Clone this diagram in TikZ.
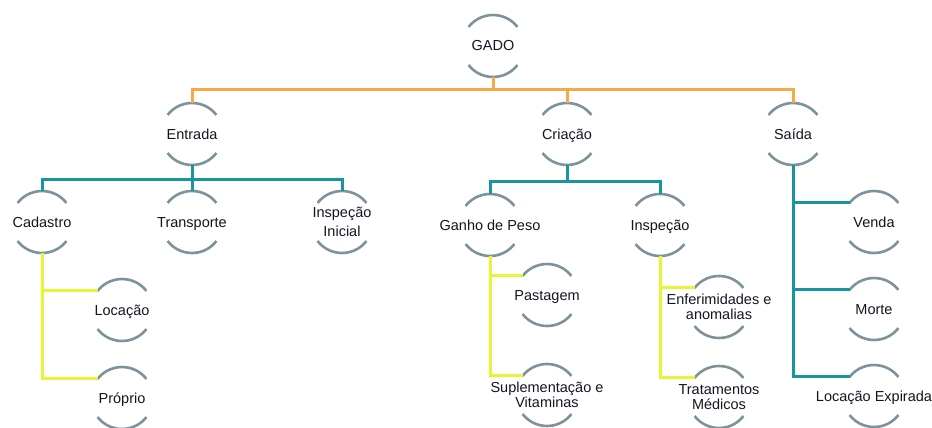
\documentclass[tikz,border=0pt]{standalone}
\usepackage{fontspec}
\setmainfont{Liberation Sans}
\definecolor{wireorange}{RGB}{247,168,72}
\definecolor{wireteal}{RGB}{24,150,158}
\definecolor{wireyellow}{RGB}{232,245,50}
\definecolor{rimgray}{RGB}{126,146,155}
\definecolor{inkdark}{RGB}{20,20,35}

% label set in a zero-width box so the circle keeps its fixed size;
% the text sits a little below the circle's centre
\newcommand\hublabel[1]{\makebox[0pt]{\raisebox{-2pt}[\height][\depth]{\begin{tabular}{@{}c@{}}#1\end{tabular}}}}
% a node drawn as two facing arcs (top and bottom) around its label
\newcommand\hubnode[4]{%
  \node[hub] (#1) at (#2,#3) {\hublabel{#4}};
  \draw[rim] (#1.142) arc[start angle=142,end angle=38,radius=31pt];
  \draw[rim] (#1.218) arc[start angle=218,end angle=322,radius=31pt];
}

\begin{document}
\begin{tikzpicture}[x=1pt,y=-1pt,
  hub/.style={circle,minimum size=62pt,inner sep=0pt,outer sep=0pt,
    font=\fontsize{14.5}{15}\selectfont,text=inkdark},
  rim/.style={draw=rimgray,line width=2.6pt},
  wire/.style={line width=3pt,line join=miter},
  lvlA/.style={wire,draw=wireorange},
  lvlB/.style={wire,draw=wireteal},
  lvlC/.style={wire,draw=wireyellow}]
\useasboundingbox (0,0) rectangle (932,428);
\clip (0,0) rectangle (932,428);

% root
\hubnode{gado}{493}{46}{GADO}
% first level
\hubnode{entrada}{192}{134}{Entrada}
\hubnode{criacao}{567}{134}{Criação}
\hubnode{saida}{793}{134}{Saída}
% under Entrada
\hubnode{cadastro}{42}{222}{Cadastro}
\hubnode{transporte}{192}{222}{Transporte}
\hubnode{inspini}{342}{222}{Inspeção\\[4pt]Inicial}
% under Criação
\hubnode{ganho}{490}{225}{Ganho de Peso}
\hubnode{inspecao}{660}{225}{Inspeção}
% under Cadastro
\hubnode{locacao}{122}{310}{Locação}
\hubnode{proprio}{122}{398}{Próprio}
% under Ganho de Peso
\hubnode{pastagem}{547}{295}{Pastagem}
\hubnode{suplem}{547}{395}{Suplementação e\\Vitaminas}
% under Inspeção
\hubnode{enferm}{719}{307}{Enferimidades e\\anomalias}
\hubnode{tratam}{719}{397}{Tratamentos\\Médicos}
% under Saída
\hubnode{venda}{874}{222}{Venda}
\hubnode{morte}{874}{309}{Morte}
\hubnode{locexp}{874}{396}{Locação Expirada}

% root bus
\draw[lvlA] (gado.south) -- (gado.south |- 0,90);
\draw[lvlA] (entrada.north) -- (entrada.north |- 0,90)
  -- (saida.north |- 0,90) -- (saida.north);
\draw[lvlA] (criacao.north) -- (criacao.north |- 0,90);

% Entrada bus
\draw[lvlB] (entrada.south) -- (transporte.north);
\draw[lvlB] (cadastro.north) -- (cadastro.north |- 0,179)
  -- (inspini.north |- 0,179) -- (inspini.north);

% Criação bus
\draw[lvlB] (criacao.south) -- (criacao.south |- 0,181);
\draw[lvlB] (ganho.north) -- (ganho.north |- 0,181)
  -- (inspecao.north |- 0,181) -- (inspecao.north);

% Saída side branch
\draw[lvlB] (saida.south) |- (locexp.142);
\draw[lvlB] (saida.south |- venda.142) -- (venda.142);
\draw[lvlB] (saida.south |- morte.142) -- (morte.142);

% Cadastro side branch
\draw[lvlC] (cadastro.south) |- (proprio.142);
\draw[lvlC] (cadastro.south |- locacao.142) -- (locacao.142);

% Ganho de Peso side branch
\draw[lvlC] (ganho.south) |- (suplem.142);
\draw[lvlC] (ganho.south |- pastagem.142) -- (pastagem.142);

% Inspeção side branch
\draw[lvlC] (inspecao.south) |- (tratam.142);
\draw[lvlC] (inspecao.south |- enferm.142) -- (enferm.142);
\end{tikzpicture}
\end{document}
